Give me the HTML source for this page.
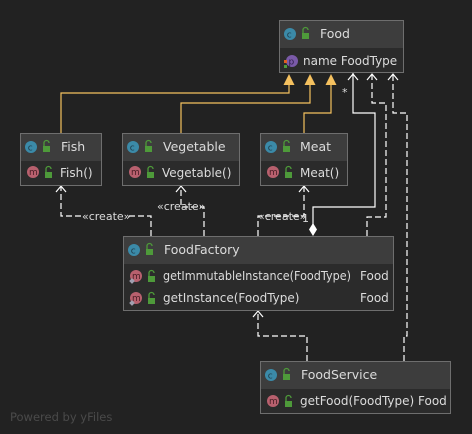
<!DOCTYPE html>
<html><head><meta charset="utf-8"><style>
html,body{margin:0;padding:0;background:#222222;}
svg{display:block}
text{font-family:"DejaVu Sans","Liberation Sans",sans-serif;font-size:12px;fill:#dcdcdc}
.h{font-size:12.5px}
</style></head><body>
<svg width="472" height="434" viewBox="0 0 472 434" xmlns="http://www.w3.org/2000/svg">
<defs>
<g id="cI"><circle r="6" fill="#3b8aa8"/><text x="-3.3" y="3.5" style="font-size:9px;fill:#1e3a48">c</text></g>
<g id="mI"><circle r="6" fill="#b8606e"/><text x="-4" y="3" style="font-size:9px;fill:#4a1e26">m</text></g>
<g id="lk"><rect x="-3" y="-1" width="7" height="6" fill="#4e9a3a"/><path d="M-2,-1 v-3 a2.5,2.5 0 0 1 5,0" fill="none" stroke="#4e9a3a" stroke-width="1.3"/></g>
</defs>

<g fill="none" stroke="#f5c15f" stroke-width="1.2">
<path d="M61,133 V93 H289 V84"/>
<path d="M181,133 V103 H310 V84"/>
<path d="M304,133 V113 H331 V84"/>
</g>
<g fill="#f5c15f">
<polygon points="289,74 283.5,85 294.5,85"/>
<polygon points="310,74 304.5,85 315.5,85"/>
<polygon points="331,74 325.5,85 336.5,85"/>
</g>

<g fill="none" stroke="#ffffff" stroke-width="1.2">
<path d="M313,229 V207 H375 V113 H353 V73"/>
<path d="M348,80 L353,74 L358,80"/>
</g>
<polygon points="313,223 317,229.5 313,236 309,229.5" fill="#ffffff"/>
<text x="342" y="96" style="font-size:11px">*</text>
<text x="302" y="222" style="font-size:11px">1</text>

<g fill="none" stroke="#ffffff" stroke-width="1.2" stroke-dasharray="6,3">
<path d="M367,236 V217 H386 V103 H372 V74"/>
<path d="M404,361 V336 H407 V113 H393 V74"/>
<path d="M151,236 V216 H61 V187"/>
<path d="M204,236 V207 H181 V187"/>
<path d="M258,236 V216 H304 V187"/>
<path d="M307,361 V336 H258 V312"/>
</g>
<g fill="none" stroke="#ffffff" stroke-width="1.2">
<path d="M367,80 L372,74 L377,80"/>
<path d="M388,80 L393,74 L398,80"/>
<path d="M56,192 L61,186 L66,192"/>
<path d="M176,192 L181,186 L186,192"/>
<path d="M299,192 L304,186 L309,192"/>
<path d="M253,317 L258,311 L263,317"/>
</g>
<rect x="83" y="211" width="45" height="10" fill="#222"/>
<text x="82" y="220" style="font-size:11px">«create»</text>
<text x="157" y="210" style="font-size:11px">«create»</text>
<text x="258" y="220" style="font-size:11px">«create»</text>

<rect x="279.5" y="20.5" width="124" height="52" fill="#2b2b2b" stroke="#6e6e6e"/>
<rect x="280" y="21" width="123" height="27" fill="#3d3d3d"/>
<use href="#cI" x="290" y="34"/><use href="#lk" x="305" y="34"/>
<text x="320" y="38" class="h">Food</text>
<circle cx="292" cy="61" r="6" fill="#7a5aa8"/><text x="288.5" y="64.5" style="font-size:9px;fill:#2e1e48">p</text>
<rect x="284" y="60" width="3" height="3" fill="#e06020"/><rect x="284" y="65" width="3" height="3" fill="#4e9a3a"/>
<text x="303" y="65">name FoodType</text>

<rect x="20.5" y="133.5" width="81" height="52" fill="#2b2b2b" stroke="#6e6e6e"/>
<rect x="21" y="134" width="80" height="27" fill="#3d3d3d"/>
<use href="#cI" x="31" y="147"/><use href="#lk" x="46" y="147"/>
<text x="61" y="151" class="h">Fish</text>
<use href="#mI" x="33" y="172"/><use href="#lk" x="48" y="173"/>
<text x="60" y="177">Fish()</text>

<rect x="122.5" y="133.5" width="117" height="52" fill="#2b2b2b" stroke="#6e6e6e"/>
<rect x="123" y="134" width="116" height="27" fill="#3d3d3d"/>
<use href="#cI" x="133" y="147"/><use href="#lk" x="148" y="147"/>
<text x="163" y="151" class="h">Vegetable</text>
<use href="#mI" x="135" y="172"/><use href="#lk" x="150" y="173"/>
<text x="162" y="177">Vegetable()</text>

<rect x="260.5" y="133.5" width="87" height="52" fill="#2b2b2b" stroke="#6e6e6e"/>
<rect x="261" y="134" width="86" height="27" fill="#3d3d3d"/>
<use href="#cI" x="271" y="147"/><use href="#lk" x="286" y="147"/>
<text x="300" y="151" class="h">Meat</text>
<use href="#mI" x="273" y="172"/><use href="#lk" x="288" y="173"/>
<text x="300" y="177">Meat()</text>

<rect x="123.5" y="236.5" width="270" height="74" fill="#2b2b2b" stroke="#6e6e6e"/>
<rect x="124" y="237" width="269" height="27" fill="#3d3d3d"/>
<use href="#cI" x="134" y="250"/><use href="#lk" x="149" y="250"/>
<text x="164" y="254" class="h">FoodFactory</text>
<use href="#mI" x="136" y="276"/><use href="#lk" x="151" y="277"/>
<rect x="130" y="279" width="4" height="4" fill="#a0a0b0" transform="rotate(45 132 281)"/>
<text x="163" y="280" textLength="188" lengthAdjust="spacingAndGlyphs">getImmutableInstance(FoodType)</text><text x="360" y="280">Food</text>
<use href="#mI" x="136" y="298"/><use href="#lk" x="151" y="299"/>
<rect x="130" y="301" width="4" height="4" fill="#a0a0b0" transform="rotate(45 132 303)"/>
<text x="163" y="302">getInstance(FoodType)</text><text x="360" y="302">Food</text>

<rect x="260.5" y="361.5" width="190" height="52" fill="#2b2b2b" stroke="#6e6e6e"/>
<rect x="261" y="362" width="189" height="27" fill="#3d3d3d"/>
<use href="#cI" x="271" y="375"/><use href="#lk" x="286" y="375"/>
<text x="301" y="379" class="h">FoodService</text>
<use href="#mI" x="273" y="401"/><use href="#lk" x="288" y="402"/>
<text x="300" y="405">getFood(FoodType) Food</text>

<text x="10" y="421" style="font-size:11.5px;fill:#4a4a4a">Powered by yFiles</text>
</svg>
</body></html>
